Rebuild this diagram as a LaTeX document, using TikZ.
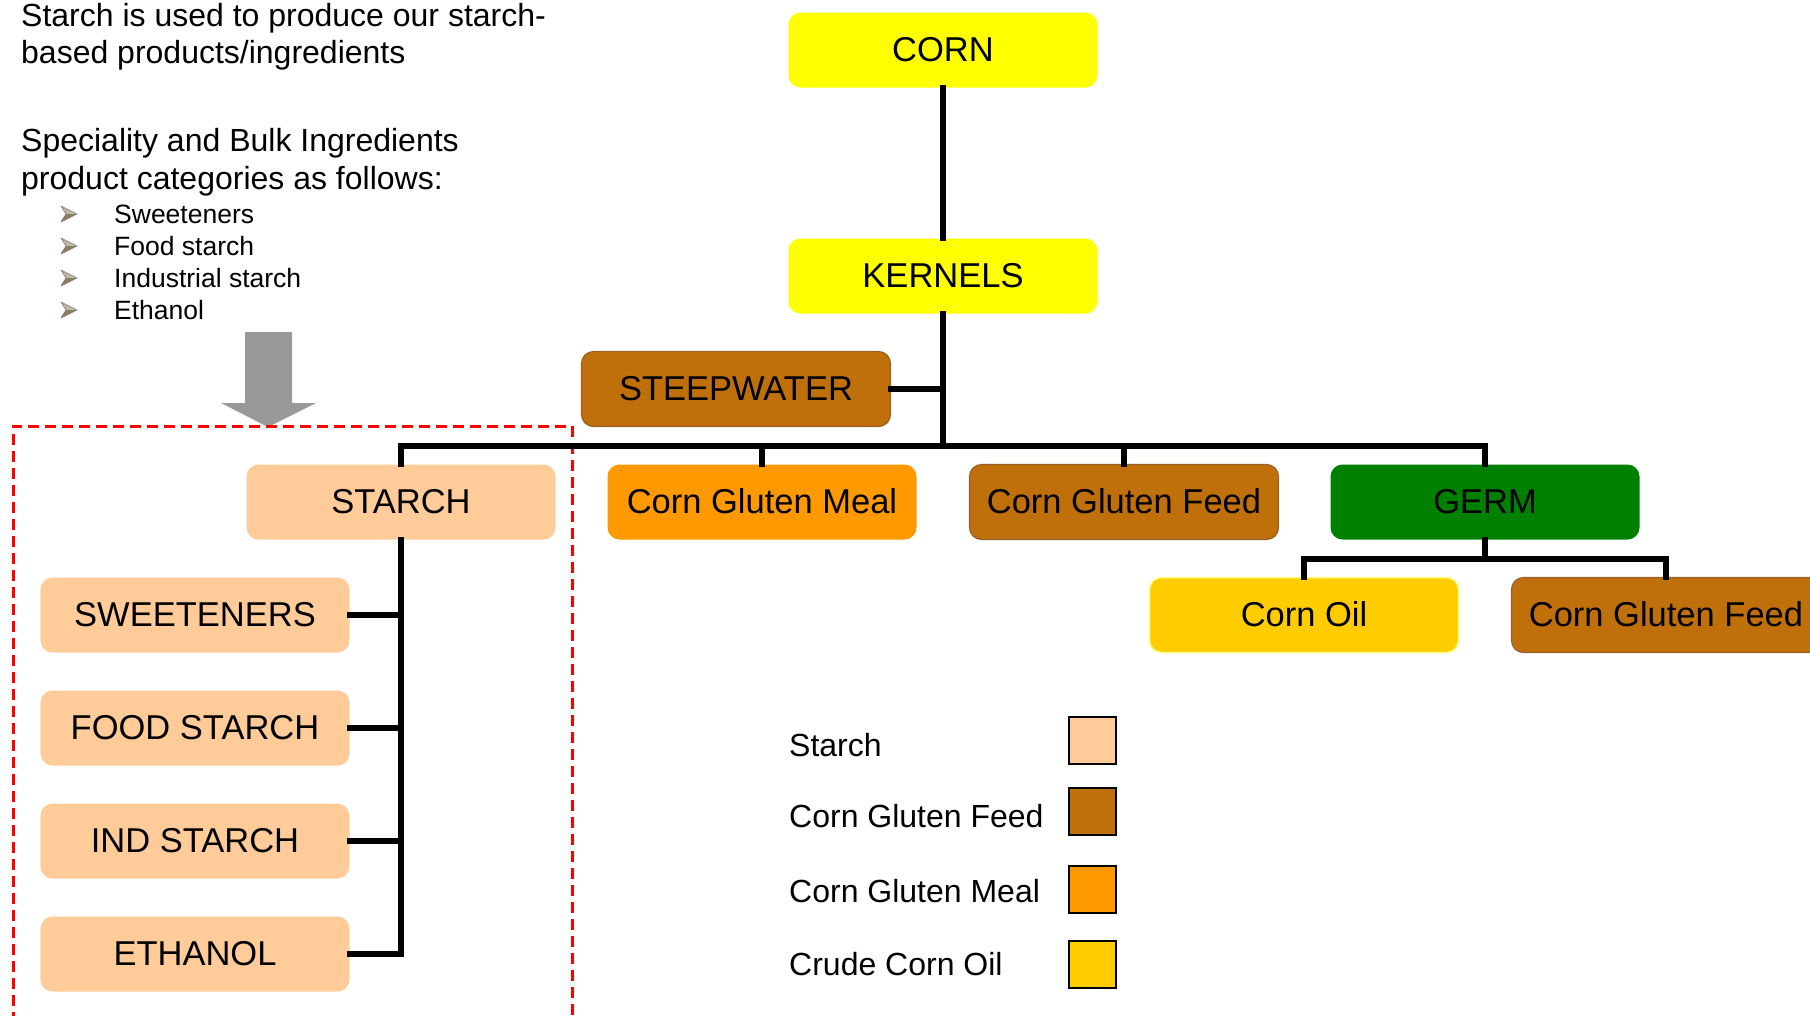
\documentclass[tikz,border=0pt]{standalone}
\usepackage{fontspec}
\setmainfont{Liberation Sans}
\definecolor{cyellow}{HTML}{FFFF00}
\definecolor{cbrown}{HTML}{C0700A}
\definecolor{cbrownedge}{HTML}{98602A}
\definecolor{cstarch}{HTML}{FFCC99}
\definecolor{cmeal}{HTML}{FF9900}
\definecolor{cgerm}{HTML}{008000}
\definecolor{coil}{HTML}{FFCC00}
\definecolor{coiledge}{HTML}{FFFF80}
\definecolor{cgrey}{HTML}{999999}
\definecolor{bulletlight}{HTML}{C2B8A8}
\definecolor{bulletdark}{HTML}{85796A}
\begin{document}
\begin{tikzpicture}[x=1bp,y=-1bp,
  pbox/.style={rounded corners=12bp, minimum width=309bp, minimum height=75bp, inner sep=0pt,
    text height=22bp, text depth=0pt,
    font=\fontsize{34.5bp}{40bp}\selectfont, text=black},
  conn/.style={line width=6bp, black, line cap=rect, line join=miter},
  ltext/.style={anchor=base west, inner sep=0pt, font=\fontsize{32bp}{38bp}\selectfont},
  btext/.style={anchor=base west, inner sep=0pt, font=\fontsize{26.5bp}{32bp}\selectfont},
  lsq/.style={draw=black, line width=2bp, minimum width=47bp, minimum height=47bp, inner sep=0pt},
  bulletarrow/.pic={
    \fill[bulletlight] (0,-8) -- (16,0) -- (5,0) -- cycle;
    \fill[bulletdark] (0,8) -- (16,0) -- (5,0) -- cycle;
    \draw[bulletdark, line width=0.6bp, line join=round] (0,-8) -- (16,0) -- (0,8) -- (5,0) -- cycle;
  }]
\useasboundingbox (0,0) rectangle (1810,1015);
\clip (0,0) rectangle (1810,1015);

% top-left text
\node[ltext] (t1) at (21,26) {Starch is used to produce our starch-};
\node[ltext] (t2) at (21,63) {based products/ingredients};
\node[ltext] (t3) at (21,151) {Speciality and Bulk Ingredients};
\node[ltext] (t4) at (21,189) {product categories as follows:};
\node[btext] (b1) at (114,223) {Sweeteners};
\node[btext] (b2) at (114,255) {Food starch};
\node[btext] (b3) at (114,287) {Industrial starch};
\node[btext] (b4) at (114,319) {Ethanol};
\pic at (61,214) {bulletarrow};
\pic at (61,246) {bulletarrow};
\pic at (61,278) {bulletarrow};
\pic at (61,310) {bulletarrow};

% grey arrow
\fill[cgrey] (245,332) -- (292,332) -- (292,403) -- (316,403) -- (268,427) -- (221,403) -- (245,403) -- cycle;

% red dashed frame
\draw[red, line width=3bp, dash pattern=on 11bp off 6bp] (13,1040) -- (13,426) -- (572,426) -- (572,1040);

% boxes
\node[pbox, fill=cyellow] (corn) at (943,50) {CORN};
\node[pbox, fill=cyellow] (kernels) at (943,276) {KERNELS};
\node[pbox, fill=cbrown, draw=cbrownedge, line width=1.2bp] (steep) at (736,389) {STEEPWATER};
\node[pbox, fill=cstarch] (starch) at (401,502) {STARCH};
\node[pbox, fill=cmeal] (cgm) at (762,502) {Corn Gluten Meal};
\node[pbox, fill=cbrown, draw=cbrownedge, line width=1.2bp] (cgf) at (1124,502) {Corn Gluten Feed};
\node[pbox, fill=cgerm] (germ) at (1485,502) {GERM};
\node[pbox, fill=coil, draw=coiledge, line width=1.5bp] (oil) at (1304,615) {Corn Oil};
\node[pbox, fill=cbrown, draw=cbrownedge, line width=1.2bp] (cgf2) at (1666,615) {Corn Gluten Feed};
\node[pbox, fill=cstarch] (sw) at (195,615) {SWEETENERS};
\node[pbox, fill=cstarch] (fs) at (195,728) {FOOD STARCH};
\node[pbox, fill=cstarch] (ind) at (195,841) {IND STARCH};
\node[pbox, fill=cstarch] (eth) at (195,954) {ETHANOL};

% connectors
\coordinate (bar) at (943,446);
\coordinate (gbar) at (1485,559);
\draw[conn] (corn.south) -- (kernels.north);
\draw[conn] (kernels.south) -- (bar);
\draw[conn] (steep.east) -- (steep.east -| bar);
\draw[conn] (starch.north) -- (starch.north |- bar) -- (germ.north |- bar) -- (germ.north);
\draw[conn] (cgm.north) -- (cgm.north |- bar);
\draw[conn] (cgf.north) -- (cgf.north |- bar);
\draw[conn] (germ.south) -- (gbar);
\draw[conn] (oil.north) -- (oil.north |- gbar) -- (cgf2.north |- gbar) -- (cgf2.north);
\draw[conn] (starch.south) -- (starch.south |- eth.east) -- (eth.east);
\draw[conn] (sw.east) -- (sw.east -| starch.south);
\draw[conn] (fs.east) -- (fs.east -| starch.south);
\draw[conn] (ind.east) -- (ind.east -| starch.south);

% legend
\node[ltext] (l1) at (789,756) {Starch};
\node[ltext] (l2) at (789,827) {Corn Gluten Feed};
\node[ltext] (l3) at (789,902) {Corn Gluten Meal};
\node[ltext] (l4) at (789,975) {Crude Corn Oil};
\node[lsq, fill=cstarch] (s1) at (1092,740) {};
\node[lsq, fill=cbrown] (s2) at (1092,811) {};
\node[lsq, fill=cmeal] (s3) at (1092,889) {};
\node[lsq, fill=coil] (s4) at (1092,964) {};
\end{tikzpicture}
\end{document}
